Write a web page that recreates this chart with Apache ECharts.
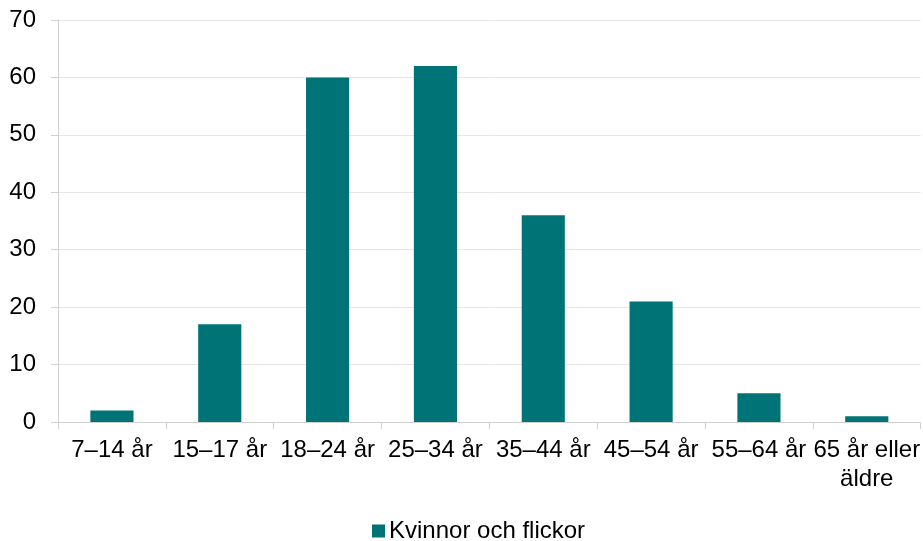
<!DOCTYPE html>
<html>
<head>
<meta charset="utf-8">
<script src="https://cdn.jsdelivr.net/npm/echarts@6/dist/echarts.min.js"></script>
<style>
  html, body { margin: 0; padding: 0; background: #fff; }
  #chart { width: 923px; height: 541px; }
</style>
</head>
<body>
<div id="chart"></div>
<script>
// data
const categories = ['7–14 år', '15–17 år', '18–24 år', '25–34 år', '35–44 år', '45–54 år', '55–64 år', '65 år eller\näldre']
const seriesName = 'Kvinnor och flickor'
const values = [2, 17, 60, 62, 36, 21, 5, 1]
const yTicks = { min: 0, max: 70, interval: 10 }

const chart = echarts.init(document.getElementById('chart'))
const font = 'Liberation Sans, Arial, sans-serif'

chart.setOption({
  animation: false,
  textStyle: { fontFamily: font },
  grid: { left: 58, right: 0, top: 20, bottom: 119, containLabel: false },
  legend: {
    data: [seriesName],
    top: 514,
    left: 367,
    icon: 'rect',
    itemWidth: 13,
    itemHeight: 13,
    itemGap: 4,
    textStyle: { fontSize: 24, color: '#000', fontFamily: font, padding: [0, 0, 0, -1] }
  },
  xAxis: {
    type: 'category',
    data: categories,
    axisLine: { lineStyle: { color: '#d0d0d0', width: 1 } },
    axisTick: { show: true, length: 7, lineStyle: { color: '#d0d0d0' } },
    axisLabel: { color: '#000', fontSize: 24, lineHeight: 29, margin: 14, interval: 0, fontFamily: font }
  },
  yAxis: {
    type: 'value',
    min: yTicks.min,
    max: yTicks.max,
    interval: yTicks.interval,
    axisLine: { show: true, lineStyle: { color: '#d0d0d0' } },
    axisTick: { show: true, length: 7, lineStyle: { color: '#d0d0d0' } },
    axisLabel: { color: '#000', fontSize: 24, margin: 22, fontFamily: font },
    splitLine: { lineStyle: { color: '#e6e6e6' } }
  },
  series: [
    {
      name: seriesName,
      type: 'bar',
      data: values,
      barWidth: '40%',
      itemStyle: { color: '#007377' }
    }
  ]
})
</script>
</body>
</html>
